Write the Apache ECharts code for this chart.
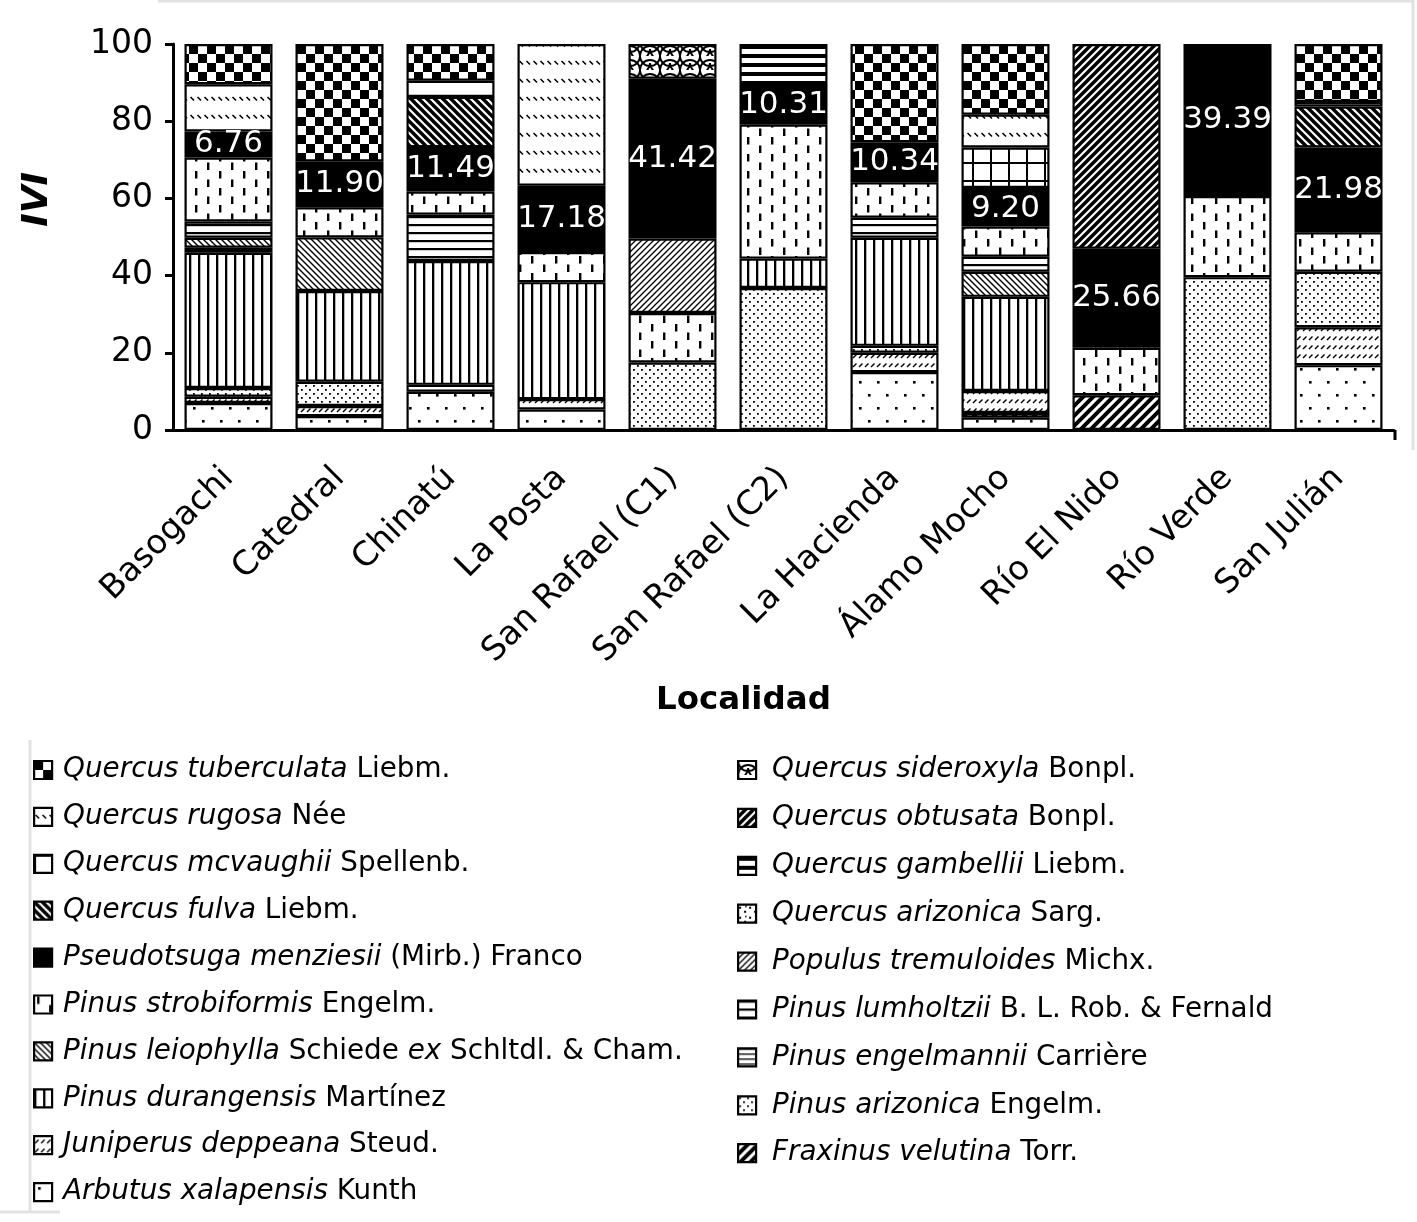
<!DOCTYPE html>
<html>
<head>
<meta charset="utf-8">
<script src="https://cdn.jsdelivr.net/npm/echarts@6/dist/echarts.min.js"></script>
<style>
html,body{margin:0;padding:0;background:#fff;}
#chart{width:1417px;height:1222px;}
</style>
</head>
<body>
<div id="chart"></div>
<script>
// ---------- DATA ----------
const categories = ['Basogachi','Catedral','Chinatú','La Posta','San Rafael (C1)','San Rafael (C2)','La Hacienda','Álamo Mocho','Río El Nido','Río Verde','San Julián'];

// stacking order: bottom -> top
const arbutusXalapensis     = [7.0, 3.6, 9.9, 5.3, 0, 0, 15.0, 3.2, 0, 0, 16.8];
const fraxinusVelutina      = [0, 0, 0, 0, 0, 0, 0, 1.2, 9.0, 0, 0];
const juniperusDeppeana     = [1.6, 2.6, 1.8, 2.7, 0, 0, 5.0, 5.7, 0, 0, 9.8];
const pinusArizonica        = [2.3, 6.3, 0, 0, 17.5, 36.8, 1.8, 0, 0, 39.6, 14.4];
const pinusDurangensis      = [35.0, 23.5, 32.1, 30.3, 0, 7.6, 28.0, 24.4, 0, 0, 0];
const pinusEngelmannii      = [1.3, 0, 0, 0, 0, 0, 0, 0, 0, 0, 0];
const pinusLeiophylla       = [2.6, 13.9, 0, 0, 0, 0, 0, 6.5, 0, 0, 0];
const pinusLumholtzii       = [4.2, 0, 12.0, 0, 0, 0, 5.2, 3.9, 0, 0, 0];
const pinusStrobiformis     = [16.6, 7.8, 6.0, 7.8, 12.8, 34.7, 9.2, 7.8, 12.3, 21.01, 10.2];
const populusTremuloides    = [0, 0, 0, 0, 19.3, 0, 0, 0, 0, 0, 0];
const pseudotsugaMenziesii  = [6.76, 11.90, 11.49, 17.18, 41.42, 10.31, 10.34, 9.20, 25.66, 39.39, 21.98];
const quercusArizonica      = [0, 0, 0, 0, 0, 0, 0, 0.8, 0, 0, 0];
const quercusFulva          = [0, 0, 13.0, 0, 0, 0, 0, 0, 0, 0, 10.6];
const quercusGambellii      = [0, 0, 0, 0, 0, 10.59, 0, 0, 0, 0, 0];
const quercusMcvaughii      = [0, 0, 0, 0, 0, 0, 0, 10.5, 0, 0, 0];
const quercusObtusata       = [0, 0, 0, 0, 0, 0, 0, 0, 53.04, 0, 0];
const quercusRugosa         = [12.2, 0, 4.2, 36.72, 0, 0, 0, 8.5, 0, 0, 1.2];
const quercusSideroxyla     = [0, 0, 0, 0, 8.98, 0, 0, 0, 0, 0, 0];
const quercusTuberculata    = [10.44, 30.4, 9.5, 0, 0, 0, 25.46, 18.3, 0, 0, 15.02];

const yTicks = [0, 20, 40, 60, 80, 100];

// ---------- PATTERNS ----------
function tile(w, h, draw, bg) {
  const c = document.createElement('canvas');
  c.width = w; c.height = h;
  const g = c.getContext('2d');
  g.fillStyle = bg || '#fff'; g.fillRect(0, 0, w, h);
  g.fillStyle = '#000'; g.strokeStyle = '#000';
  draw(g, w, h);
  return { image: c, repeat: 'repeat' };
}
function diag(g, w, h, lw, up, color) {
  g.strokeStyle = color || '#000'; g.lineWidth = lw; g.lineCap = 'square';
  for (let k = -1; k <= 1; k++) {
    g.beginPath();
    if (up) { g.moveTo(k * w, h); g.lineTo(k * w + w, 0); }
    else { g.moveTo(k * w, 0); g.lineTo(k * w + w, h); }
    g.stroke();
  }
}
const P = {
  sparseDots: tile(18, 26, g => { g.fillRect(4, 4, 2.6, 2.6); g.fillRect(13, 17, 2.6, 2.6); }),
  wideUpDiag: tile(10, 10, (g, w, h) => diag(g, w, h, 4, true)),
  dashUpDiag: tile(6, 9, g => { g.lineWidth = 1.5; g.beginPath(); g.moveTo(1, 7); g.lineTo(4.5, 3.5); g.stroke(); }),
  denseDots: tile(8, 8, g => { g.fillRect(1, 1, 1.8, 1.8); g.fillRect(5, 5, 1.8, 1.8); }),
  vertLines: tile(9, 4, g => { g.fillRect(0, 0, 2.3, 4); }),
  narrowHoriz: tile(4, 5, g => { g.fillRect(0, 0, 4, 1.3); }),
  lightDownDiag: tile(6, 6, (g, w, h) => diag(g, w, h, 1.4, false)),
  horizLines: tile(4, 8, g => { g.fillRect(0, 0, 4, 2.2); }),
  dashVert: tile(24, 17, g => { g.fillRect(3, 1, 2.4, 7.5); g.fillRect(15, 9.5, 2.4, 7.5); }),
  lightUpDiag: tile(6, 6, (g, w, h) => diag(g, w, h, 1.3, true)),
  confetti: tile(10, 10, g => { g.fillRect(1, 2, 2, 2); g.fillRect(6, 6, 2, 2); g.fillRect(7, 1, 1.5, 1.5); }),
  darkDownDiag: tile(8, 8, (g, w, h) => diag(g, w, h, 3.4, false)),
  darkHoriz: tile(4, 9, g => { g.fillRect(0, 0, 4, 4); }),
  grid: tile(18, 18, g => { g.fillRect(0, 0, 18, 2); g.fillRect(0, 0, 2, 18); }),
  darkUpDiag: tile(8, 8, (g, w, h) => diag(g, w, h, 3.5, true)),
  dashDownDiag: tile(7, 18, g => { g.lineWidth = 1.6; g.beginPath(); g.moveTo(1.5, 7); g.lineTo(5, 10.5); g.stroke(); }),
  shingle: tile(20, 14, g => {
    g.lineWidth = 1.8;
    g.beginPath(); g.arc(10, 0, 10, 0, Math.PI); g.stroke();
    g.beginPath(); g.arc(0, 7, 10, 0, Math.PI); g.stroke();
    g.beginPath(); g.arc(20, 7, 10, 0, Math.PI); g.stroke();
    g.beginPath(); g.arc(10, 14, 10, Math.PI, 2 * Math.PI); g.stroke();
  }),
  checker: tile(18, 18, g => { g.fillRect(0, 0, 9, 9); g.fillRect(9, 9, 9, 9); })
};

// species: [name, italic, author(rich), data, pattern]
const species = [
  ['Arbutus xalapensis Kunth', 'Arbutus xalapensis', '{n|Kunth}', arbutusXalapensis, P.sparseDots],
  ['Fraxinus velutina Torr.', 'Fraxinus velutina', '{n|Torr.}', fraxinusVelutina, P.wideUpDiag],
  ['Juniperus deppeana Steud.', 'Juniperus deppeana', '{n|Steud.}', juniperusDeppeana, P.dashUpDiag],
  ['Pinus arizonica Engelm.', 'Pinus arizonica', '{n|Engelm.}', pinusArizonica, P.denseDots],
  ['Pinus durangensis Martínez', 'Pinus durangensis', '{n|Martínez}', pinusDurangensis, P.vertLines],
  ['Pinus engelmannii Carrière', 'Pinus engelmannii', '{n|Carrière}', pinusEngelmannii, P.narrowHoriz],
  ['Pinus leiophylla Schiede ex Schltdl. & Cham.', 'Pinus leiophylla', '{n|Schiede} {i|ex} {n|Schltdl. & Cham.}', pinusLeiophylla, P.lightDownDiag],
  ['Pinus lumholtzii B. L. Rob. & Fernald', 'Pinus lumholtzii', '{n|B. L. Rob. & Fernald}', pinusLumholtzii, P.horizLines],
  ['Pinus strobiformis Engelm.', 'Pinus strobiformis', '{n|Engelm.}', pinusStrobiformis, P.dashVert],
  ['Populus tremuloides Michx.', 'Populus tremuloides', '{n|Michx.}', populusTremuloides, P.lightUpDiag],
  ['Pseudotsuga menziesii (Mirb.) Franco', 'Pseudotsuga menziesii', '{n|(Mirb.) Franco}', pseudotsugaMenziesii, '#000'],
  ['Quercus arizonica Sarg.', 'Quercus arizonica', '{n|Sarg.}', quercusArizonica, P.confetti],
  ['Quercus fulva Liebm.', 'Quercus fulva', '{n|Liebm.}', quercusFulva, P.darkDownDiag],
  ['Quercus gambellii Liebm.', 'Quercus gambellii', '{n|Liebm.}', quercusGambellii, P.darkHoriz],
  ['Quercus mcvaughii Spellenb.', 'Quercus mcvaughii', '{n|Spellenb.}', quercusMcvaughii, P.grid],
  ['Quercus obtusata Bonpl.', 'Quercus obtusata', '{n|Bonpl.}', quercusObtusata, P.darkUpDiag],
  ['Quercus rugosa Née', 'Quercus rugosa', '{n|Née}', quercusRugosa, P.dashDownDiag],
  ['Quercus sideroxyla Bonpl.', 'Quercus sideroxyla', '{n|Bonpl.}', quercusSideroxyla, P.shingle],
  ['Quercus tuberculata Liebm.', 'Quercus tuberculata', '{n|Liebm.}', quercusTuberculata, P.checker]
];

const richName = {};
species.forEach(s => { richName[s[0]] = '{g|}{i|' + s[1] + '} ' + s[2]; });

const FONT = 'DejaVu Sans';
const LFS = 27.8;
function legendText(gap) {
  return {
    fontFamily: FONT, fontSize: LFS, color: '#000',
    rich: {
      g: { width: gap, lineHeight: 30 },
      i: { fontFamily: FONT, fontSize: LFS, fontStyle: 'italic', color: '#000', lineHeight: 30 },
      n: { fontFamily: FONT, fontSize: LFS, color: '#000', lineHeight: 30 }
    }
  };
}

// legend order (row-major reverse alphabetical, split into two columns)
const legendLeft = ['Quercus tuberculata Liebm.', 'Quercus rugosa Née', 'Quercus mcvaughii Spellenb.', 'Quercus fulva Liebm.',
  'Pseudotsuga menziesii (Mirb.) Franco', 'Pinus strobiformis Engelm.', 'Pinus leiophylla Schiede ex Schltdl. & Cham.',
  'Pinus durangensis Martínez', 'Juniperus deppeana Steud.', 'Arbutus xalapensis Kunth'];
const legendRight = ['Quercus sideroxyla Bonpl.', 'Quercus obtusata Bonpl.', 'Quercus gambellii Liebm.', 'Quercus arizonica Sarg.',
  'Populus tremuloides Michx.', 'Pinus lumholtzii B. L. Rob. & Fernald', 'Pinus engelmannii Carrière',
  'Pinus arizonica Engelm.', 'Fraxinus velutina Torr.'];

const series = species.map(s => {
  const isPseudo = s[0].indexOf('Pseudotsuga') === 0;
  return {
    name: s[0],
    type: 'bar',
    stack: 'ivi',
    barWidth: 88,
    data: s[3].map(v => (v === 0 ? '-' : v)),
    itemStyle: { color: s[4], borderColor: '#000', borderWidth: 2.2 },
    emphasis: { disabled: true },
    label: isPseudo ? {
      show: true, position: 'inside', color: '#fff', fontFamily: FONT, fontSize: 31,
      formatter: p => Number(p.value).toFixed(2)
    } : { show: false }
  };
});

const chart = echarts.init(document.getElementById('chart'), null, { renderer: 'canvas' });
chart.setOption({
  animation: false,
  backgroundColor: '#fff',
  grid: { left: 173, top: 44, width: 1221, height: 386, containLabel: false },
  xAxis: {
    type: 'category',
    data: categories,
    axisLine: { lineStyle: { color: '#000', width: 3 } },
    axisTick: { alignWithLabel: true, length: 9, lineStyle: { color: '#000', width: 3 } },
    axisLabel: { rotate: 45, margin: 43, color: '#000', fontFamily: FONT, fontSize: 33.5, interval: 0 }
  },
  yAxis: {
    type: 'value', min: 0, max: 100, interval: 20,
    axisLine: { show: true, lineStyle: { color: '#000', width: 3 } },
    axisTick: { show: true, length: 8, lineStyle: { color: '#000', width: 3 } },
    axisLabel: { margin: 20, color: '#000', fontFamily: FONT, fontSize: 33,
      formatter: v => (yTicks.indexOf(v) >= 0 ? String(v) : '') },
    splitLine: { show: false }
  },
  legend: [
    {
      data: legendLeft, orient: 'vertical', left: 33, top: 756, padding: 0,
      itemWidth: 18, itemHeight: 18, itemGap: 18.9, selectedMode: false,
      icon: 'rect', itemStyle: { borderColor: '#000', borderWidth: 2.2 },
      formatter: n => richName[n], textStyle: legendText(6)
    },
    {
      data: legendRight, orient: 'vertical', left: 737, top: 756, padding: 0,
      itemWidth: 18, itemHeight: 18, itemGap: 19.9, selectedMode: false,
      icon: 'rect', itemStyle: { borderColor: '#000', borderWidth: 2.2 },
      formatter: n => richName[n], textStyle: legendText(11)
    }
  ],
  graphic: [
    { type: 'text', left: 20, top: 172, rotation: Math.PI / 2,
      style: { text: 'IVI', fontFamily: FONT, fontSize: 36, fontWeight: 'bold', fontStyle: 'italic', fill: '#000' } },
    { type: 'text', left: 656, top: 684,
      style: { text: 'Localidad', fontFamily: FONT, fontSize: 32.5, fontWeight: 'bold', fill: '#000' } },
    { type: 'line', shape: { x1: 1395, y1: 430, x2: 1395, y2: 440 }, style: { stroke: '#000', lineWidth: 3 } },
    { type: 'line', shape: { x1: 158, y1: 1, x2: 1413, y2: 1 }, style: { stroke: '#e2e2e2', lineWidth: 3 } },
    { type: 'line', shape: { x1: 1413, y1: 0, x2: 1413, y2: 450 }, style: { stroke: '#e2e2e2', lineWidth: 3 } },
    { type: 'line', shape: { x1: 30, y1: 740, x2: 30, y2: 1212 }, style: { stroke: '#e2e2e2', lineWidth: 3 } },
    { type: 'line', shape: { x1: 0, y1: 1212, x2: 60, y2: 1212 }, style: { stroke: '#e2e2e2', lineWidth: 3 } }
  ],
  series: series
});
</script>
</body>
</html>
